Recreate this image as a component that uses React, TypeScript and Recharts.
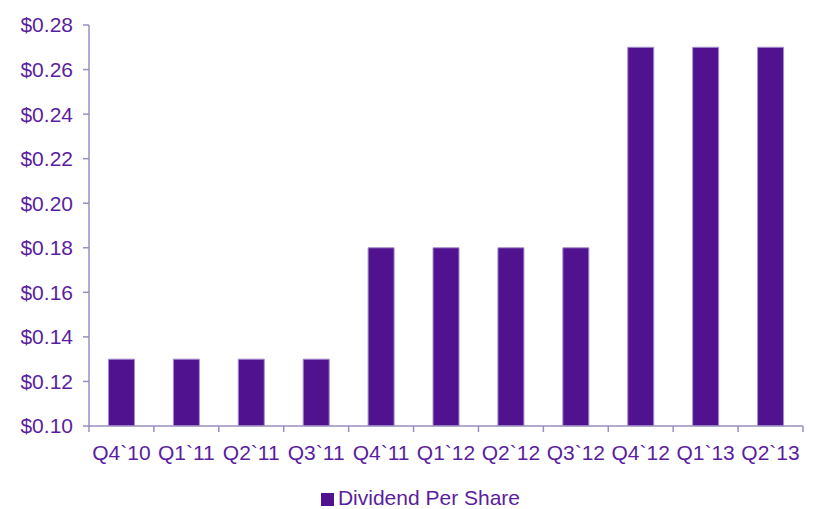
import React from 'react';
import { BarChart, Bar, XAxis, YAxis, Legend } from 'recharts';

const quarters = ['Q4`10', 'Q1`11', 'Q2`11', 'Q3`11', 'Q4`11', 'Q1`12', 'Q2`12', 'Q3`12', 'Q4`12', 'Q1`13', 'Q2`13'];
const dividends = [0.13, 0.13, 0.13, 0.13, 0.18, 0.18, 0.18, 0.18, 0.27, 0.27, 0.27];
const yTicks = [0.1, 0.12, 0.14, 0.16, 0.18, 0.2, 0.22, 0.24, 0.26, 0.28];

const data = quarters.map((q, i) => ({ q, value: dividends[i] }));

const purple = '#51128F';
const textColor = '#5A1E9E';
const axisColor = '#9A8DC2';
const font = '"Liberation Sans", Arial, sans-serif';

// category label plus tick marks on the band boundaries
const CatTick = (props: any) => {
  const { x, y, payload, index, visibleTicksCount } = props;
  const half = payload?.offset ?? 0;
  const last = index === visibleTicksCount - 1;
  return (
    <g>
      <line x1={x - half} x2={x - half} y1={y} y2={y + 6} stroke={axisColor} strokeWidth={1.5} />
      {last && <line x1={x + half} x2={x + half} y1={y} y2={y + 6} stroke={axisColor} strokeWidth={1.5} />}
      <text x={x} y={y + 19} dy="0.71em" textAnchor="middle" fill={textColor} fontSize={21} fontFamily={font}>
        {payload.value}
      </text>
    </g>
  );
};

export default function App() {
  return (
    <div style={{ position: 'absolute', left: 0, top: 0, background: '#fff' }}>
      <BarChart
        width={817}
        height={509}
        data={data}
        margin={{ top: 25, right: 14, left: 0, bottom: 0 }}
        barCategoryGap="30%"
      >
        <XAxis
          dataKey="q"
          stroke={axisColor}
          strokeWidth={1.5}
          tickLine={false}
          tickSize={0}
          tickMargin={0}
          height={57}
          interval={0}
          tick={CatTick}
        />
        <YAxis
          domain={[0.1, 0.28]}
          ticks={yTicks}
          width={89}
          stroke={axisColor}
          strokeWidth={1.5}
          tickSize={6}
          tickMargin={10}
          tick={{ fill: textColor, fontSize: 21, fontFamily: font }}
          tickFormatter={(v: number) => `$${v.toFixed(2)}`}
          allowDataOverflow
        />
        <Legend
          verticalAlign="bottom"
          iconType="square"
          iconSize={13}
          wrapperStyle={{ height: 26, paddingTop: 3, paddingLeft: 48, boxSizing: 'border-box', fontFamily: font, fontSize: 21 }}
          formatter={(value) => <span style={{ color: textColor }}>{value}</span>}
        />
        <Bar
          dataKey="value"
          name="Dividend Per Share"
          fill={purple}
          stroke="#A58FCB"
          strokeWidth={1}
          isAnimationActive={false}
        />
      </BarChart>
    </div>
  );
}
